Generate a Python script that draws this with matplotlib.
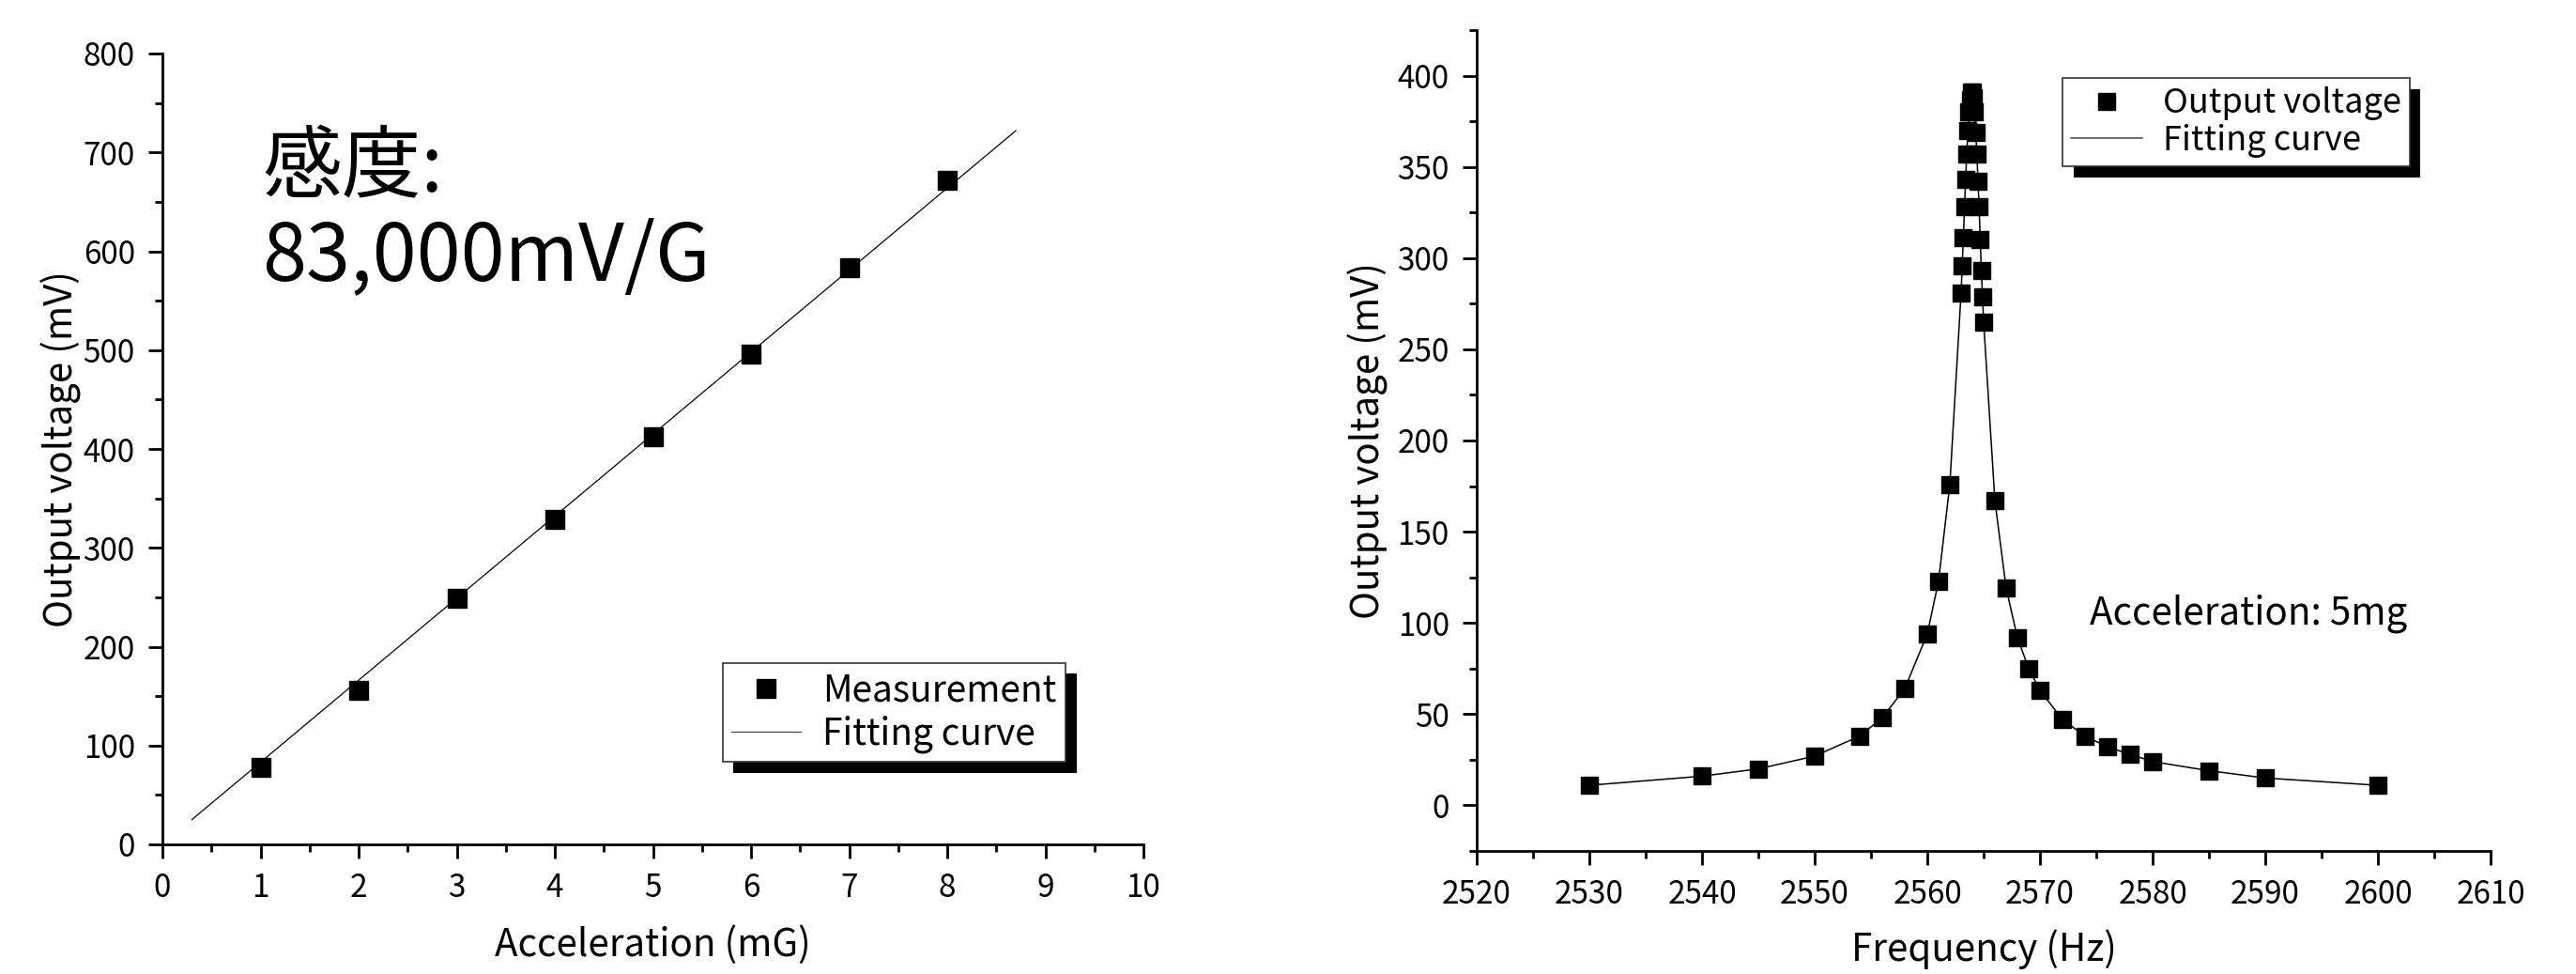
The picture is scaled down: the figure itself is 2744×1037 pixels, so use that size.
import matplotlib
matplotlib.use("Agg")
import matplotlib.pyplot as plt
import matplotlib.patheffects as pe
from matplotlib.ticker import MultipleLocator

plt.rcParams['font.family'] = ['Noto Sans CJK JP', 'DejaVu Sans']

# left: sensitivity measurement
accel = [1, 2, 3, 4, 5, 6, 7, 8]
volt = [78, 156, 249, 329, 412, 496, 583, 672]
fit_accel = [0.3, 8.7]
fit_volt = [25, 722]

# right: frequency response
freq = [2530, 2540, 2545, 2550, 2554, 2556, 2558, 2560, 2561, 2562,
        2563.0, 2563.1, 2563.2, 2563.3, 2563.4, 2563.5, 2563.6, 2563.7, 2563.8, 2563.9,
        2564.0, 2564.1, 2564.2, 2564.3, 2564.4, 2564.5, 2564.6, 2564.7, 2564.8, 2564.9,
        2565.0, 2566, 2567, 2568, 2569, 2570, 2572, 2574, 2576, 2578,
        2580, 2585, 2590, 2600]
out_v = [11, 16, 20, 27, 38, 48, 64, 94, 123, 176,
         281, 296, 311, 328, 343, 357, 370, 380, 387, 391,
         391, 388, 380, 369, 357, 342, 328, 310, 293, 279,
         265, 167, 119, 92, 75, 63, 47, 38, 32, 28,
         24, 19, 15, 11]

W, H = 2744, 1037
fig = plt.figure(figsize=(W / 100, H / 100), dpi=100)


def style_axes(ax):
    for s in ['top', 'right']:
        ax.spines[s].set_visible(False)
    for s in ['left', 'bottom']:
        ax.spines[s].set_linewidth(2)
    ax.tick_params(which='major', direction='out', length=11, width=2, labelsize=24, pad=10)
    ax.tick_params(which='minor', direction='out', length=5.5, width=2)


def add_legend(ax, anchor, size, hl, spacing):
    leg = ax.legend(loc='lower right', bbox_to_anchor=anchor, borderaxespad=0,
                    fancybox=False, edgecolor='#333333', framealpha=1,
                    fontsize=size, handlelength=hl, handletextpad=0.6,
                    borderpad=0.25, labelspacing=spacing)
    fr = leg.get_frame()
    fr.set_linewidth(1.2)
    fr.set_path_effects([pe.SimplePatchShadow(offset=(8.5, -8.5), shadow_rgbFace='k', alpha=1),
                         pe.Normal()])
    leg.legend_handles[1].set_color('#444444')
    return leg


# left panel
ax1 = fig.add_axes([173 / W, (H - 899) / H, (1218 - 173) / W, (899 - 57) / H])
ax1.plot(accel, volt, 's', color='k', markersize=14.5, label='Measurement', zorder=3)
ax1.plot(fit_accel, fit_volt, '-', color='k', lw=0.9, label='Fitting curve')
ax1.set_xlim(0, 10)
ax1.set_ylim(0, 800)
ax1.xaxis.set_major_locator(MultipleLocator(1))
ax1.xaxis.set_minor_locator(MultipleLocator(0.5))
ax1.yaxis.set_major_locator(MultipleLocator(100))
ax1.yaxis.set_minor_locator(MultipleLocator(50))
style_axes(ax1)
ax1.set_xlabel('Acceleration (mG)', fontsize=29, labelpad=16)
ax1.set_ylabel('Output voltage (mV)', fontsize=29, labelpad=1)
ax1.text(1.02, 724, '感度:\n83,000mV/G', fontsize=61, va='top', ha='left', linespacing=1.1)
add_legend(ax1, (0.921, 0.104), 28, 1.9, 0.15)

# right panel
ax2 = fig.add_axes([1573 / W, (H - 906) / H, (2653 - 1573) / W, (906 - 32) / H])
ax2.plot(freq, out_v, 's', color='k', markersize=13, label='Output voltage', zorder=3)
ax2.plot(freq, out_v, '-', color='k', lw=1.1, label='Fitting curve')
ax2.set_xlim(2520, 2610)
ax2.set_ylim(-25, 425)
ax2.xaxis.set_major_locator(MultipleLocator(10))
ax2.xaxis.set_minor_locator(MultipleLocator(5))
ax2.yaxis.set_major_locator(MultipleLocator(50))
ax2.yaxis.set_minor_locator(MultipleLocator(25))
ax2.set_yticks([0, 50, 100, 150, 200, 250, 300, 350, 400])
style_axes(ax2)
ax2.set_xlabel('Frequency (Hz)', fontsize=29, labelpad=14)
ax2.set_ylabel('Output voltage (mV)', fontsize=29, labelpad=7)
ax2.text(2574.4, 105, 'Acceleration: 5mg', fontsize=29, va='center', ha='left')
add_legend(ax2, (0.920, 0.834), 26, 2.1, 0.1)

fig.savefig('out.png', dpi=100)
